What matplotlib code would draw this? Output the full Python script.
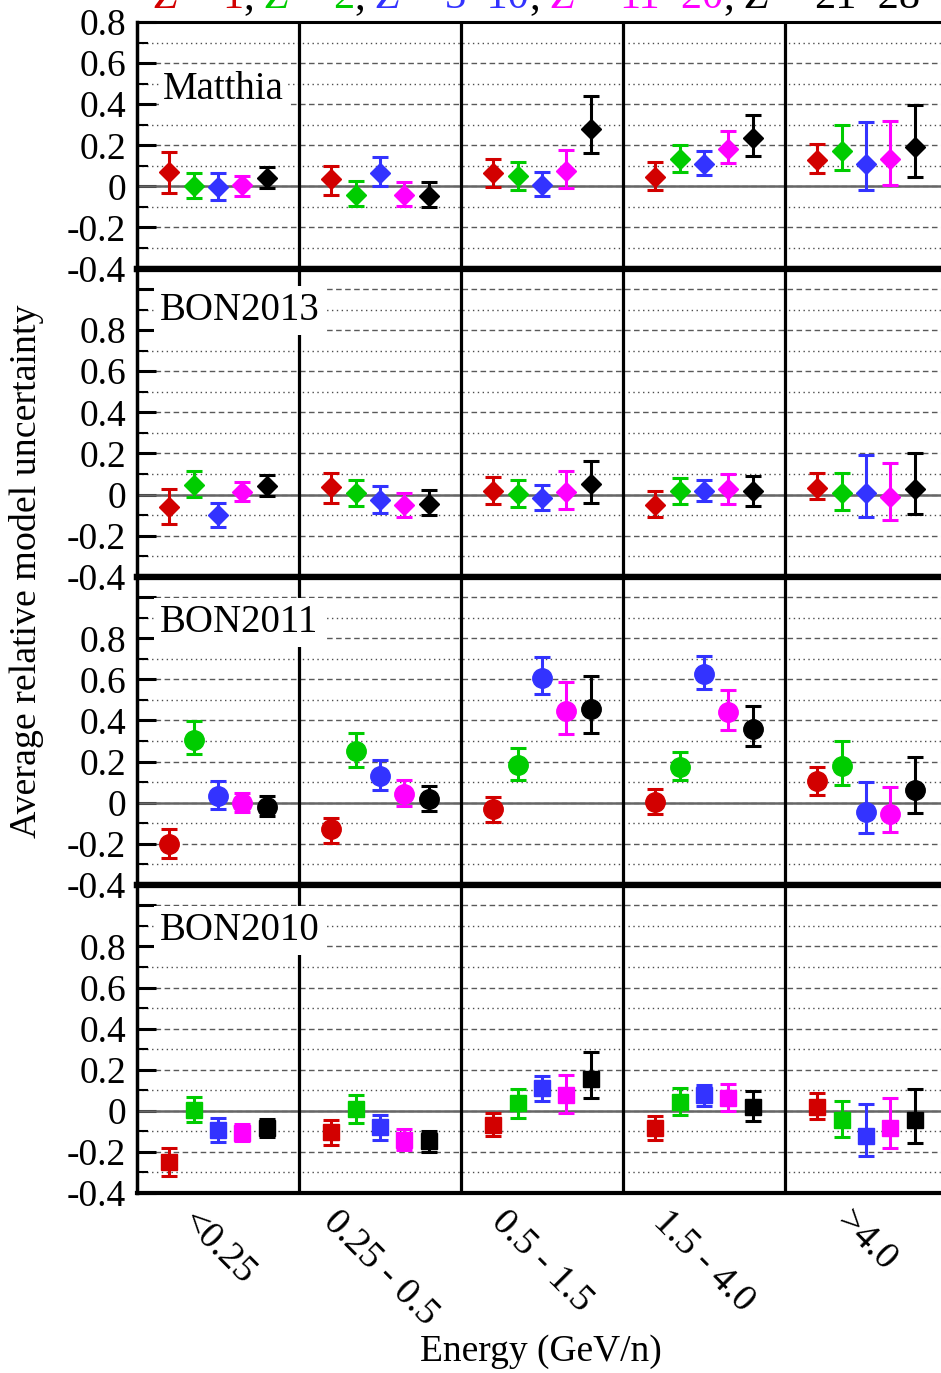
import matplotlib
matplotlib.use('Agg')
import matplotlib.pyplot as plt
import numpy as np
from matplotlib.ticker import MultipleLocator, FuncFormatter

plt.rcParams['font.family'] = ['Liberation Serif', 'DejaVu Serif']
plt.rcParams['axes.unicode_minus'] = False

energy_bins = ['<0.25', '0.25 - 0.5', '0.5 - 1.5', '1.5 - 4.0', '>4.0']
z_groups = ['1', '2', '3\u201310', '11\u201320', '21\u201328']
colors = ['#d20000', '#00cc00', '#3333ff', '#ff00ff', '#000000']
models = ['Matthia', 'BON2013', 'BON2011', 'BON2010']

# rows = energy bins, columns = Z groups
matthia_val = [[0.07, 0.0, -0.005, 0.008, 0.04],
               [0.036, -0.042, 0.063, -0.042, -0.045],
               [0.065, 0.049, 0.006, 0.076, 0.279],
               [0.044, 0.131, 0.11, 0.183, 0.234],
               [0.13, 0.174, 0.107, 0.133, 0.192]]
matthia_hi = [[0.166, 0.063, 0.067, 0.05, 0.093],
              [0.097, 0.026, 0.141, 0.021, 0.021],
              [0.131, 0.117, 0.07, 0.175, 0.44],
              [0.118, 0.201, 0.172, 0.27, 0.347],
              [0.208, 0.30, 0.312, 0.317, 0.398]]
matthia_lo = [[-0.03, -0.058, -0.065, -0.045, -0.01],
              [-0.042, -0.097, 0.003, -0.097, -0.10],
              [-0.005, -0.02, -0.047, -0.01, 0.164],
              [-0.018, 0.068, 0.057, 0.112, 0.146],
              [0.063, 0.081, -0.02, 0.006, 0.047]]

bon2013_val = [[-0.06, 0.045, -0.102, 0.013, 0.042],
               [0.037, 0.008, -0.028, -0.052, -0.044],
               [0.018, 0.002, -0.019, 0.01, 0.049],
               [-0.049, 0.016, 0.016, 0.028, 0.015],
               [0.031, 0.005, 0.005, -0.01, 0.028]]
bon2013_hi = [[0.026, 0.114, -0.039, 0.062, 0.096],
              [0.106, 0.073, 0.039, 0.005, 0.021],
              [0.084, 0.07, 0.044, 0.114, 0.162],
              [0.015, 0.078, 0.07, 0.102, 0.091],
              [0.107, 0.107, 0.192, 0.154, 0.201]]
bon2013_lo = [[-0.144, -0.013, -0.156, -0.034, -0.006],
              [-0.039, -0.055, -0.091, -0.109, -0.099],
              [-0.047, -0.06, -0.076, -0.071, -0.042],
              [-0.109, -0.044, -0.034, -0.044, -0.055],
              [-0.024, -0.076, -0.109, -0.125, -0.094]]

bon2011_val = [[-0.20, 0.304, 0.032, 0.0, -0.021],
               [-0.128, 0.252, 0.128, 0.044, 0.016],
               [-0.032, 0.185, 0.609, 0.446, 0.458],
               [0.002, 0.174, 0.625, 0.44, 0.36],
               [0.104, 0.179, -0.045, -0.054, 0.06]]
bon2011_hi = [[-0.127, 0.396, 0.106, 0.049, 0.031],
              [-0.076, 0.341, 0.209, 0.109, 0.083],
              [0.026, 0.268, 0.711, 0.588, 0.617],
              [0.068, 0.247, 0.714, 0.547, 0.472],
              [0.174, 0.30, 0.101, 0.076, 0.222]]
bon2011_lo = [[-0.27, 0.237, -0.031, -0.047, -0.063],
              [-0.196, 0.175, 0.063, -0.016, -0.041],
              [-0.094, 0.112, 0.529, 0.336, 0.339],
              [-0.057, 0.112, 0.555, 0.356, 0.274],
              [0.036, 0.084, -0.148, -0.143, -0.049]]

bon2010_val = [[-0.248, 0.002, -0.094, -0.107, -0.083],
               [-0.102, 0.008, -0.08, -0.14, -0.148],
               [-0.067, 0.036, 0.109, 0.076, 0.157],
               [-0.086, 0.042, 0.076, 0.063, 0.018],
               [0.018, -0.047, -0.123, -0.083, -0.047]]
bon2010_hi = [[-0.18, 0.067, -0.034, -0.063, -0.041],
              [-0.044, 0.075, -0.018, -0.088, -0.096],
              [-0.011, 0.106, 0.169, 0.175, 0.284],
              [-0.026, 0.109, 0.127, 0.133, 0.096],
              [0.088, 0.049, 0.031, 0.062, 0.106]]
bon2010_lo = [[-0.318, -0.054, -0.151, -0.148, -0.125],
              [-0.164, -0.058, -0.14, -0.192, -0.198],
              [-0.123, -0.034, 0.05, -0.011, 0.062],
              [-0.143, -0.018, 0.023, -0.003, -0.049],
              [-0.042, -0.125, -0.221, -0.18, -0.157]]

panel_data = [(matthia_val, matthia_lo, matthia_hi),
              (bon2013_val, bon2013_lo, bon2013_hi),
              (bon2011_val, bon2011_lo, bon2011_hi),
              (bon2010_val, bon2010_lo, bon2010_hi)]
markers = ['D', 'D', 'o', 's']
marker_sizes = [10, 10, 14, 11]
ytops = [0.8, 1.1, 1.1, 1.1]
offsets = [-0.3, -0.15, 0.0, 0.15, 0.3]
label_pos = [(0.032, 0.6875, 0.1), (0.028, 0.833, 0.15),
             (0.028, 0.82, 0.15), (0.028, 0.82, 0.15)]

W, H = 941, 1373
fig = plt.figure(figsize=(W / 100, H / 100), dpi=100)
gs = fig.add_gridspec(4, 1, height_ratios=[1.2, 1.5, 1.5, 1.5], hspace=0,
                      left=137 / W, right=947 / W, top=1 - 22 / H, bottom=1 - 1193 / H)


def ylab(v, pos):
    if v > 0.85:
        return ''
    if abs(v) < 1e-9:
        return '0'
    return '%.1f' % v


for p in range(4):
    ax = fig.add_subplot(gs[p])
    val, lo, hi = (np.array(a, dtype=float) for a in panel_data[p])
    for g in range(5):
        x = np.arange(5) + 0.5 + offsets[g]
        v = val[:, g]
        yerr = [np.clip(v - lo[:, g], 0, None), np.clip(hi[:, g] - v, 0, None)]
        ax.errorbar(x, v, yerr=yerr, fmt=markers[p], color=colors[g], mec=colors[g],
                    ms=marker_sizes[p], capsize=5.8, elinewidth=2.2, capthick=2.2, zorder=3)

    ax.set_xlim(0, 5)
    ax.set_ylim(-0.4, ytops[p])
    ax.yaxis.set_major_locator(MultipleLocator(0.2))
    ax.yaxis.set_minor_locator(MultipleLocator(0.1))
    ax.yaxis.set_major_formatter(FuncFormatter(ylab))
    ax.grid(which='major', axis='y', ls=(0, (4, 2.5)), color='0.35', lw=1.0, zorder=0.5)
    ax.grid(which='minor', axis='y', ls=(0, (1, 2.5)), color='0.3', lw=1.0, zorder=0.5)
    ax.set_axisbelow(True)
    ax.axhline(0, color='0.4', lw=1.8, zorder=1)
    for b in range(1, 5):
        ax.axvline(b, color='k', lw=2.3, zorder=1.5)

    ax.tick_params(axis='y', which='major', direction='in', length=13.5, width=2.2,
                   labelsize=27, pad=8, right=False)
    ax.tick_params(axis='y', which='minor', direction='in', length=8, width=1.5, right=False)
    ax.spines['left'].set_linewidth(2.5)
    ax.spines['right'].set_visible(False)
    ax.spines['top'].set_linewidth(2.2 if p == 0 else 4.5)
    ax.spines['bottom'].set_linewidth(3.0 if p == 3 else 4.5)

    if p == 3:
        ax.set_xticks(np.arange(5) + 0.5)
        ax.set_xticklabels(energy_bins, rotation=-45, ha='center', va='top', fontsize=27.5)
        ax.tick_params(axis='x', length=0, pad=8)
    else:
        ax.set_xticks([])

    lx, ly, lpad = label_pos[p]
    ax.text(lx, ly, models[p], transform=ax.transAxes, fontsize=28, ha='left', va='baseline',
            zorder=4, bbox=dict(boxstyle='square,pad=%g' % lpad, fc='white', ec='none'))

fig.text(27 / W, 1 - 571 / H, 'Average relative model uncertainty', rotation=90,
         ha='center', va='center', fontsize=27.3)
fig.text(541 / W, 1 - 1352 / H, 'Energy (GeV/n)', ha='center', va='center', fontsize=27)

# coloured header, partly cut at the top edge
renderer = fig.canvas.get_renderer()


def text_width(s, **kw):
    t = fig.text(0, 0, s, **kw)
    w = t.get_window_extent(renderer).width
    t.remove()
    return w


tsize = 30.5
space = text_width('x x', fontsize=tsize) - text_width('xx', fontsize=tsize)
pieces = []
for i, (zg, c) in enumerate(zip(z_groups, colors)):
    pieces += [('Z', c, 'italic', True), ('=', c, 'normal', True), (zg, c, 'normal', False)]
    if i < len(z_groups) - 1:
        pieces.append((',', 'black', 'normal', True))
xpx = 153
for s, c, style, gap in pieces:
    t = fig.text(xpx / W, 1 - 8.5 / H, s, color=c, style=style, fontsize=tsize,
                 ha='left', va='baseline')
    xpx += t.get_window_extent(renderer).width + (space if gap else 0)

fig.savefig('out.png', dpi=100)
